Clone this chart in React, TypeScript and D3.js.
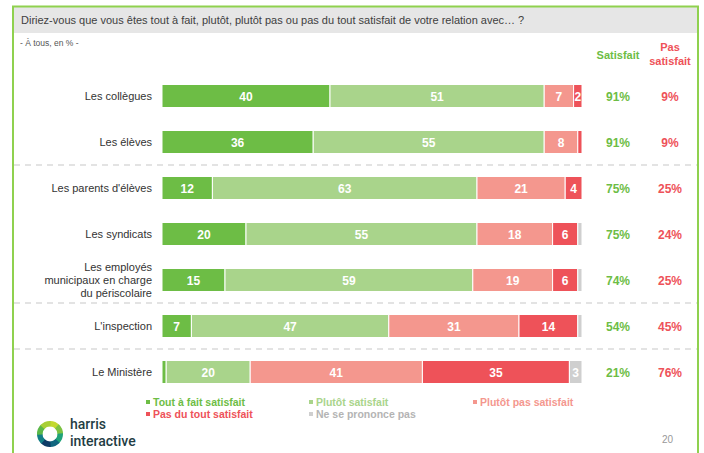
import * as d3 from "d3";
import { useRef, useEffect } from "react";

const categories = [
  "Les collègues",
  "Les élèves",
  "Les parents d'élèves",
  "Les syndicats",
  "Les employés|municipaux en charge|du périscolaire",
  "L'inspection",
  "Le Ministère",
];
const toutAFait = [40, 36, 12, 20, 15, 7, 1];
const plutot = [51, 55, 63, 55, 59, 47, 20];
const plutotPas = [7, 8, 21, 18, 19, 31, 41];
const pasDuTout = [2, 1, 4, 6, 6, 14, 35];
const nsp = [0, 0, 0, 1, 1, 1, 3];
const totalSatisfait = ["91%", "91%", "75%", "75%", "74%", "54%", "21%"];
const totalPas = ["9%", "9%", "25%", "24%", "25%", "45%", "76%"];
const separatorsAfter = [1, 4, 5];

const seriesNames = [
  "Tout à fait satisfait",
  "Plutôt satisfait",
  "Plutôt pas satisfait",
  "Pas du tout satisfait",
  "Ne se prononce pas",
];
const colors = ["#6dbd45", "#a9d48b", "#f4978e", "#ee5259", "#cfcfcf"];
const legendText = ["#6dbd45", "#a9d48b", "#f4978e", "#ee5259", "#b4b4b4"];

const FONT = "Arial, 'Liberation Sans', sans-serif";

export default function App() {
  const ref = useRef();

  useEffect(() => {
    const width = 704;
    const height = 453;
    const svg = d3.select(ref.current);
    svg.selectAll("*").remove();
    svg.attr("width", width).attr("height", height).style("font-family", FONT);

    // frame + header
    svg.append("rect").attr("x", 0).attr("y", 0).attr("width", width).attr("height", height).attr("fill", "#fff");
    svg.append("rect").attr("x", 13).attr("y", 7).attr("width", 685).attr("height", 26).attr("fill", "#e6e6e6");
    svg.append("line").attr("x1", 12).attr("x2", 699).attr("y1", 6.5).attr("y2", 6.5).attr("stroke", "#8fd14f").attr("stroke-width", 2);
    svg.append("line").attr("x1", 13).attr("x2", 13).attr("y1", 6).attr("y2", height).attr("stroke", "#8fd14f").attr("stroke-width", 2);
    svg.append("line").attr("x1", 698).attr("x2", 698).attr("y1", 6).attr("y2", height).attr("stroke", "#8fd14f").attr("stroke-width", 2);

    svg.append("text").attr("x", 21).attr("y", 24).attr("font-size", 11).attr("fill", "#404040")
      .text("Diriez-vous que vous êtes tout à fait, plutôt, plutôt pas ou pas du tout satisfait de votre relation avec… ?");
    svg.append("text").attr("x", 20).attr("y", 46).attr("font-size", 8.5).attr("fill", "#555")
      .text("- À tous, en % -");

    const x = d3.scaleLinear().domain([0, 100]).range([162, 582]);
    const y = d3.scalePoint().domain(categories).range([73, 395]).padding(0.5);
    const barH = 23;
    const colSat = 618;
    const colPas = 670;

    svg.append("text").attr("x", colSat).attr("y", 59).attr("text-anchor", "middle")
      .attr("font-size", 11).attr("font-weight", "bold").attr("fill", "#6dbd45").text("Satisfait");
    const pasHead = svg.append("text").attr("text-anchor", "middle")
      .attr("font-size", 11).attr("font-weight", "bold").attr("fill", "#ee5259");
    pasHead.append("tspan").attr("x", colPas).attr("y", 51).text("Pas");
    pasHead.append("tspan").attr("x", colPas).attr("y", 65).text("satisfait");

    // separators
    separatorsAfter.forEach((i) => {
      const yy = (y(categories[i]) + y(categories[i + 1])) / 2;
      svg.append("line").attr("x1", 14).attr("x2", 697).attr("y1", yy).attr("y2", yy)
        .attr("stroke", "#c8c8c8").attr("stroke-width", 1.2).attr("stroke-dasharray", "6,5");
    });

    const series = [toutAFait, plutot, plutotPas, pasDuTout, nsp];
    const rows = categories.map((c, i) => {
      let acc = 0;
      return series.map((s, k) => {
        const seg = { cat: c, k, v: s[i], x0: acc, x1: acc + s[i] };
        acc += s[i];
        return seg;
      });
    });

    rows.forEach((segs, i) => {
      const cy = y(categories[i]);
      const g = svg.append("g");
      const lines = categories[i].split("|");
      const lab = g.append("text").attr("x", 152).attr("text-anchor", "end")
        .attr("font-size", 11).attr("fill", "#333");
      lines.forEach((l, j) => {
        lab.append("tspan").attr("x", 152)
          .attr("y", cy + 4 + (j - (lines.length - 1) / 2) * 13).text(l);
      });

      g.selectAll("rect.seg").data(segs.filter((d) => d.v > 0)).enter().append("rect")
        .attr("x", (d) => x(d.x0)).attr("y", cy - barH / 2)
        .attr("width", (d) => x(d.x1) - x(d.x0)).attr("height", barH)
        .attr("fill", (d) => colors[d.k]).attr("stroke", "#fff").attr("stroke-width", 1);

      g.selectAll("text.val").data(segs.filter((d) => d.v >= 2)).enter().append("text")
        .attr("x", (d) => (x(d.x0) + x(d.x1)) / 2).attr("y", cy + 4.5)
        .attr("text-anchor", "middle").attr("font-size", 12).attr("font-weight", "bold")
        .attr("fill", "#fff").text((d) => d.v);

      g.append("text").attr("x", colSat).attr("y", cy + 5).attr("text-anchor", "middle")
        .attr("font-size", 12).attr("font-weight", "bold").attr("fill", "#6dbd45").text(totalSatisfait[i]);
      g.append("text").attr("x", colPas).attr("y", cy + 5).attr("text-anchor", "middle")
        .attr("font-size", 12).attr("font-weight", "bold").attr("fill", "#ee5259").text(totalPas[i]);
    });

    // legend
    const legendPos = [[146, 406], [309, 406], [473, 406], [146, 418], [309, 418]];
    seriesNames.forEach((n, k) => {
      const [lx, ly] = legendPos[k];
      svg.append("rect").attr("x", lx).attr("y", ly - 6).attr("width", 4).attr("height", 4).attr("fill", colors[k]);
      svg.append("text").attr("x", lx + 7).attr("y", ly).attr("font-size", 10.5).attr("font-weight", "bold")
        .attr("fill", legendText[k]).text(n);
    });

    // logo
    const arc = d3.arc();
    const logoColors = ["#c3d92f", "#7cc242", "#1fa37a", "#11667f", "#0d3b66", "#127f86", "#5bb848", "#a8cf36"];
    const la = d3.range(logoColors.length).map((i) => (i * 2 * Math.PI) / logoColors.length);
    const logo = svg.append("g").attr("transform", "translate(50,434)");
    la.forEach((a, i) => {
      logo.append("path").attr("d", arc({
        innerRadius: 7.5, outerRadius: 13, startAngle: a - 0.05,
        endAngle: a + (2 * Math.PI) / logoColors.length + 0.05,
      })).attr("fill", logoColors[i]);
    });
    const brand = svg.append("text").attr("font-size", 14).attr("fill", "#1f3d44")
      .attr("font-family", "Roboto, sans-serif").attr("font-weight", 500);
    brand.append("tspan").attr("x", 70).attr("y", 429).text("harris");
    brand.append("tspan").attr("x", 70).attr("y", 446).text("interactive");

    svg.append("text").attr("x", 662).attr("y", 443).attr("font-size", 10).attr("fill", "#999").text("20");
  }, []);

  return (
    <div style={{ position: "absolute", left: 0, top: 0 }}>
      <svg ref={ref}></svg>
    </div>
  );
}
